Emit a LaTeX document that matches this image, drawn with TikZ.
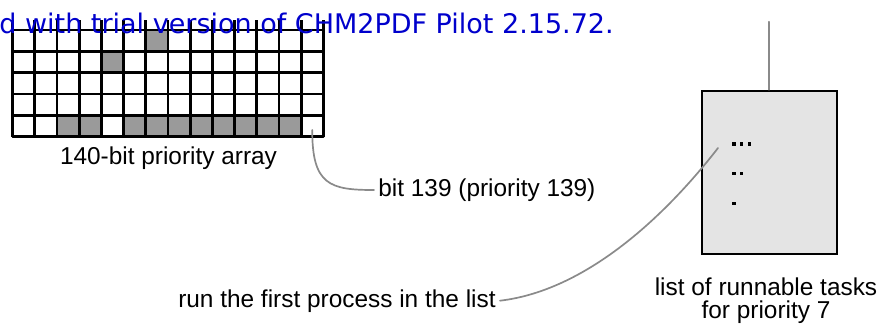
\documentclass[tikz,border=0pt]{standalone}
\usepackage{fontspec}
\setmainfont{Liberation Sans}
\newfontfamily\markfont{DejaVu Sans}
\usetikzlibrary{calc}
\definecolor{cellgray}{HTML}{9A9A9A}
\definecolor{boxgray}{HTML}{E4E4E4}
\definecolor{wiregray}{HTML}{8A8A8A}
\definecolor{markblue}{HTML}{0000CC}

\begin{document}
\begin{tikzpicture}[x=0.5pt, y=-0.5pt, line cap=round,
  caption/.style={font=\fontsize{12.2}{11.5}\selectfont, inner sep=0pt},
  wire/.style={draw=wiregray, line width=0.85pt},
  taskbox/.style={draw=black, line width=1pt, fill=boxgray,
    minimum width=67.5pt, minimum height=81.6pt, inner sep=0pt}]
  \useasboundingbox (0,0) rectangle (882,328);
  \def\cx{12.7}
  \def\cy{30}
  \def\cw{22.19}
  \def\ch{21.33}

  % set bits (column/row)
  \foreach \c/\r in {6/0,4/1} \fill[cellgray] ({\cx+\c*\cw},{\cy+\r*\ch}) rectangle ++(\cw,\ch);
  \foreach \c in {2,3,5,6,...,12} \fill[cellgray] ({\cx+\c*\cw},{\cy+4*\ch}) rectangle ++(\cw,\ch);

  % bitmap grid
  \foreach \i in {0,...,14}
    \draw[line width=1.4pt, line cap=butt] ({\cx+\i*\cw},20) -- ({\cx+\i*\cw},{\cy+5*\ch});
  \foreach \j in {0,...,5}
    \draw[line width=1.4pt] (\cx,{\cy+\j*\ch}) -- ({\cx+14*\cw},{\cy+\j*\ch});

  \node[anchor=base west, inner sep=0pt, text=markblue,
    font=\markfont\fontsize{13.5}{16}\selectfont] (mark) at (-1,33)
    {d with trial version of CHM2PDF Pilot 2.15.72.};

  \node[caption, anchor=base] (arraylabel) at (168.5,164) {140-bit priority array};
  \coordinate (bit139) at ({\cx+13.5*\cw},130);
  \node[caption, anchor=west, inner sep=2pt] (bitlabel) at (374,190) {bit 139 (priority 139)};
  \draw[wire] (bit139) .. controls (312,185) and (330,190) .. (bitlabel.west);

  % run queue for one priority
  \coordinate (feed) at (769.3,21.7);
  \node[taskbox] (tasks) at (769.3,172.3) {};
  \draw[wire] (feed) -- (tasks.north);
  \foreach \n/\y in {3/144,2/173.3,1/203.3}
    \foreach \k in {1,...,\n}
      \fill ({732.3+(\k-1)*7.7},{\y-1.7}) rectangle ++(3.4,3.4);
  \node[caption, anchor=north, align=center] (taskslabel) at (766,277)
    {list of runnable tasks\\for priority 7};

  \coordinate (firsttask) at (718,148);
  \node[caption, anchor=base east, inner xsep=2pt] (runlabel) at (500,307)
    {run the first process in the list};
  \draw[wire] (runlabel.east) .. controls (590,290) and (670,210) .. (firsttask);
\end{tikzpicture}
\end{document}
